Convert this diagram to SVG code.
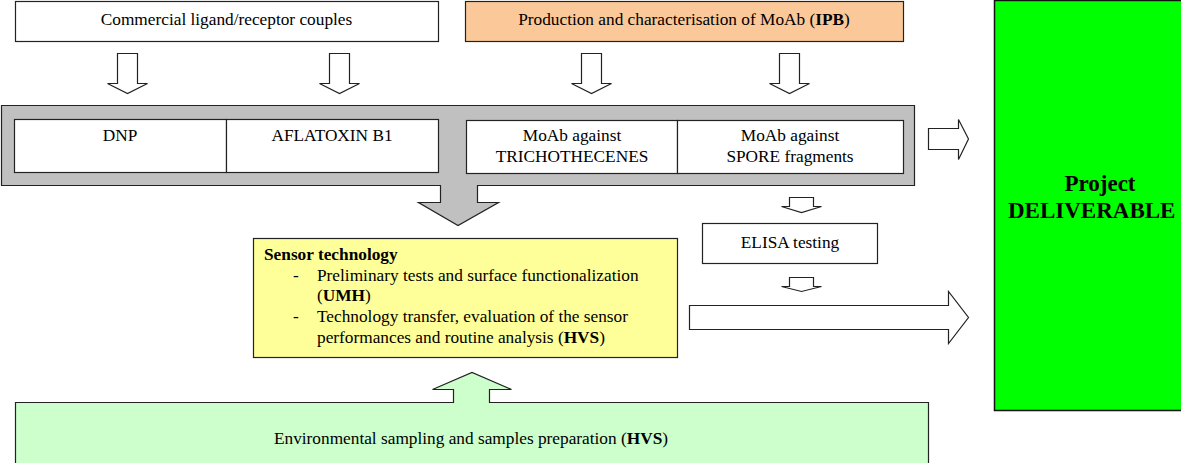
<svg xmlns="http://www.w3.org/2000/svg" width="1181" height="463" viewBox="0 0 1181 463">
<style>
text{font-size:17.3px;fill:#000}
.b{font-weight:bold}
.box{stroke:#222;stroke-width:1.2}
.white{fill:#fff}
.arr{fill:#fff;stroke:#222;stroke-width:1.2;stroke-linejoin:miter}
.mid{text-anchor:middle}
</style>
<rect width="1181" height="463" fill="#fff"/>
<g font-family="'Liberation Serif', 'Times New Roman', Times, 'DejaVu Serif', serif">
<g id="commercial">
<rect class="box white" x="15.5" y="1.5" width="423" height="40"/>
<text class="mid" x="226.5" y="25">Commercial ligand/receptor couples</text>
</g>

<g id="production">
<rect class="box" fill="#FBC999" x="465.5" y="1.5" width="438" height="40"/>
<text class="mid" x="684" y="25">Production and characterisation of MoAb (<tspan class="b">IPB</tspan>)</text>
</g>

<g id="targets">
<path class="box" fill="#C0C0C0" d="M1.5,105.5 H914.5 V185.5 H477.5 V202.5 H498.5 L458,225.5 L418.5,202.5 H440.5 V185.5 H1.5 Z"/>
</g>

<g id="dnp">
<rect class="box white" x="14.5" y="119.5" width="212" height="53"/>
<text class="mid" x="120" y="141">DNP</text>
</g>
<g id="aflatoxin">
<rect class="box white" x="226.5" y="119.5" width="212" height="53"/>
<text class="mid" x="332" y="141">AFLATOXIN B1</text>
</g>
<g id="trichothecenes">
<rect class="box white" x="466.5" y="120.5" width="211" height="53"/>
<text class="mid" x="572" y="141">MoAb against</text>
<text class="mid" x="572" y="162">TRICHOTHECENES</text>
</g>
<g id="spore">
<rect class="box white" x="677.5" y="120.5" width="226" height="53"/>
<text class="mid" x="790" y="141">MoAb against</text>
<text class="mid" x="790" y="162">SPORE fragments</text>
</g>

<g id="sensor">
<rect class="box" fill="#FFFF99" x="253.5" y="238.5" width="424" height="119"/>
<text class="b" x="264" y="260">Sensor technology</text>
<text x="293" y="281">-</text>
<text x="317" y="281">Preliminary tests and surface functionalization</text>
<text x="317" y="301">(<tspan class="b">UMH</tspan>)</text>
<text x="293" y="322">-</text>
<text x="317" y="322">Technology transfer, evaluation of the sensor</text>
<text x="317" y="343">performances and routine analysis (<tspan class="b">HVS</tspan>)</text>
</g>

<g id="elisa">
<rect class="box white" x="702.5" y="223.5" width="175" height="40"/>
<text class="mid" x="790" y="248">ELISA testing</text>
</g>

<g id="environmental">
<path class="box" fill="#CCFFCC" d="M15.5,402.5 H453.5 V389.5 H432.5 L472,372.5 L511.5,389.5 H489.5 V402.5 H928.5 V470 H15.5 Z"/>
<text class="mid" x="471" y="444">Environmental sampling and samples preparation (<tspan class="b">HVS</tspan>)</text>
</g>

<g id="deliverable">
<rect x="994.5" y="0.5" width="200" height="410" fill="#00FF00" stroke="#111" stroke-width="1.5"/>
<text class="b mid" x="1100" y="191" style="font-size:23px">Project</text>
<text class="b" x="1008" y="218" style="font-size:23px">DELIVERABLE</text>
</g>
</g>
<g id="connectors">
<path class="arr" d="M117.5,53.5 H137.5 V83.5 H147.5 L127.5,93.5 L107.5,83.5 H117.5 Z"/>
<path class="arr" d="M329.5,53.5 H349.5 V83.5 H359.5 L339.5,93.5 L319.5,83.5 H329.5 Z"/>
<path class="arr" d="M581.5,53.5 H601.5 V83.5 H611.5 L591.5,93.5 L571.5,83.5 H581.5 Z"/>
<path class="arr" d="M779.5,53.5 H799.5 V83.5 H809.5 L789.5,93.5 L769.5,83.5 H779.5 Z"/>
<path class="arr" d="M928.5,128.5 H958.5 V119.5 L968.5,139 L958.5,159.5 V149.5 H928.5 Z"/>
<path class="arr" d="M789.5,197.5 H813.5 V206.5 H821.5 L801.5,212.5 L781.5,206.5 H789.5 Z"/>
<path class="arr" d="M789.5,277.5 H813.5 V286.5 H821.5 L801.5,291.5 L781.5,286.5 H789.5 Z"/>
<path class="arr" d="M689.5,305.5 H948.5 V291.5 L968.5,317.5 L948.5,343.5 V329.5 H689.5 Z"/>
</g>
</svg>
